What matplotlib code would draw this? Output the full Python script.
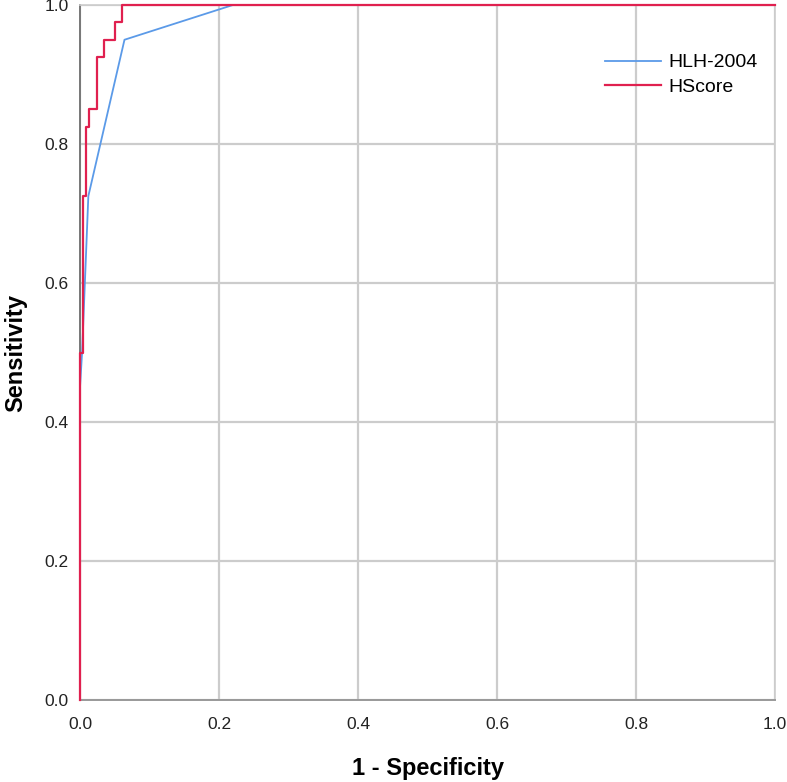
import matplotlib
matplotlib.use("Agg")
from matplotlib import pyplot as plt
from matplotlib.lines import Line2D

plt.rcParams['font.family'] = ['Liberation Sans', 'DejaVu Sans']

# ROC curve points (1 - specificity, sensitivity)
hlh_fpr = [0.0, 0.0, 0.003, 0.012, 0.064, 0.22, 1.0]
hlh_tpr = [0.0, 0.45, 0.5, 0.725, 0.95, 1.0, 1.0]

hscore_fpr = [0.0, 0.0, 0.005, 0.005, 0.008, 0.008, 0.013, 0.013, 0.024, 0.024,
              0.034, 0.034, 0.051, 0.051, 0.06, 0.06, 1.0]
hscore_tpr = [0.0, 0.5, 0.5, 0.725, 0.725, 0.825, 0.825, 0.85, 0.85, 0.925,
              0.925, 0.95, 0.95, 0.975, 0.975, 1.0, 1.0]

ticks = [0.0, 0.2, 0.4, 0.6, 0.8, 1.0]
tick_labels = ["0.0", "0.2", "0.4", "0.6", "0.8", "1.0"]

blue = "#5b9ae8"
red = "#e0204f"

fig = plt.figure(figsize=(7.87, 7.82), dpi=100)
ax = fig.add_axes([80 / 787, 82 / 782, 695 / 787, 695 / 782])

ax.plot(hlh_fpr, hlh_tpr, color=blue, linewidth=1.3, label="HLH-2004", clip_on=False, zorder=3)
ax.plot(hscore_fpr, hscore_tpr, color=red, linewidth=1.6, label="HScore", clip_on=False, zorder=4)

ax.set_xlim(0, 1)
ax.set_ylim(0, 1)
ax.set_xticks(ticks)
ax.set_yticks(ticks)
ax.set_xticklabels(tick_labels)
ax.set_yticklabels(tick_labels)
ax.tick_params(length=0, labelsize=12.5, colors="#222222")
ax.tick_params(axis="x", pad=12)
ax.tick_params(axis="y", pad=8)

ax.grid(True, color="#cccccc", linewidth=1.6)
ax.set_axisbelow(True)
for side in ["top", "right"]:
    ax.spines[side].set_color("#cccccc")
    ax.spines[side].set_linewidth(1.2)
ax.spines["left"].set_color("#777777")
ax.spines["bottom"].set_color("#999999")
ax.spines["left"].set_linewidth(1.4)
ax.spines["bottom"].set_linewidth(1.4)

ax.set_xlabel("1 - Specificity", fontsize=17, fontweight="bold", va="center")
ax.set_ylabel("Sensitivity", fontsize=17, fontweight="bold", va="center")
ax.xaxis.set_label_coords(0.5, -0.098)
ax.yaxis.set_label_coords(-0.092, 0.5)

handles = [Line2D([0], [0], color=blue, linewidth=1.3),
           Line2D([0], [0], color=red, linewidth=1.6)]
ax.legend(handles, ["HLH-2004", "HScore"], loc="upper right",
          bbox_to_anchor=(1.0, 0.955), frameon=False, fontsize=14,
          handlelength=2.9, handletextpad=0.35, labelspacing=0.35)

plt.savefig("out.png", dpi=100)
